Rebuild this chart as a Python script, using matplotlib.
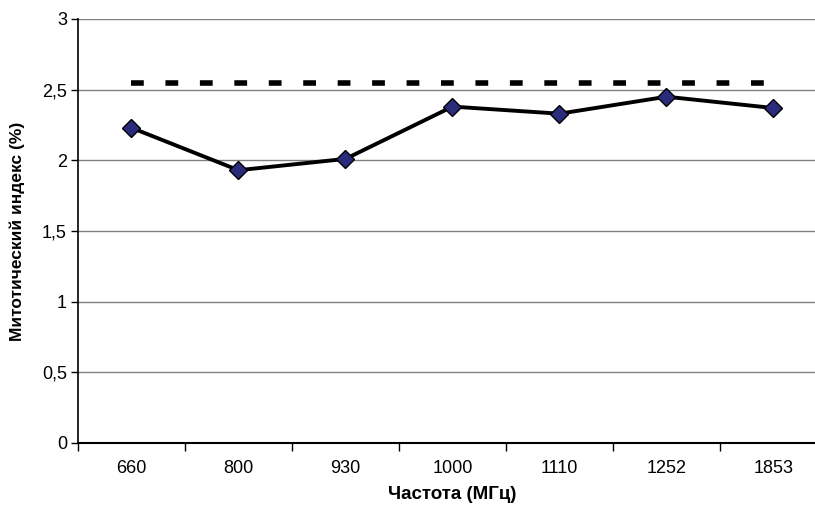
import numpy as np
import matplotlib.pyplot as plt

plt.rcParams['font.family'] = ['Liberation Sans', 'DejaVu Sans']

freqs = ["660", "800", "930", "1000", "1110", "1252", "1853"]
mitotic = [2.23, 1.93, 2.01, 2.38, 2.33, 2.45, 2.37]
control = [2.55, 2.55, 2.55, 2.55, 2.55, 2.55, 2.55]

x = np.arange(len(freqs))

fig = plt.figure(figsize=(8.15, 5.09), dpi=100)
ax = fig.add_axes([0.0957, 0.1297, 0.919, 0.833])

ax.plot(x, control, color="black", linewidth=4, linestyle=(0, (2.3, 3.9)),
        dash_capstyle="butt", zorder=3)
ax.plot(x, mitotic, color="black", linewidth=2.8, marker="D", markersize=9,
        markerfacecolor="#2b2b7c", markeredgecolor="black", markeredgewidth=1,
        zorder=4)

ax.set_xlim(-0.5, len(freqs) - 0.5)
ax.set_ylim(0, 3)
ax.set_yticks(np.arange(0, 3.01, 0.5))
ax.set_yticklabels(["0", "0,5", "1", "1,5", "2", "2,5", "3"])
ax.yaxis.grid(True, color="#808080", linewidth=1)
ax.set_axisbelow(True)

ax.set_xticks(x)
ax.set_xticklabels(freqs)
ax.set_xticks(np.arange(-0.5, len(freqs), 1), minor=True)
ax.tick_params(axis="x", which="major", length=0, pad=12, labelsize=13)
ax.tick_params(axis="x", which="minor", length=6, width=1, direction="out")
ax.tick_params(axis="y", length=5, width=1, labelsize=13, pad=3)

for s in ["top", "right"]:
    ax.spines[s].set_visible(False)
ax.spines["left"].set_linewidth(1.2)
ax.spines["bottom"].set_linewidth(1.5)

ax.set_xlabel("Частота (МГц)", fontsize=13.5, fontweight="bold", labelpad=7)
ax.set_ylabel("Митотический индекс (%)", fontsize=12.5, fontweight="bold", labelpad=12)

fig.savefig("out.png", dpi=100)
